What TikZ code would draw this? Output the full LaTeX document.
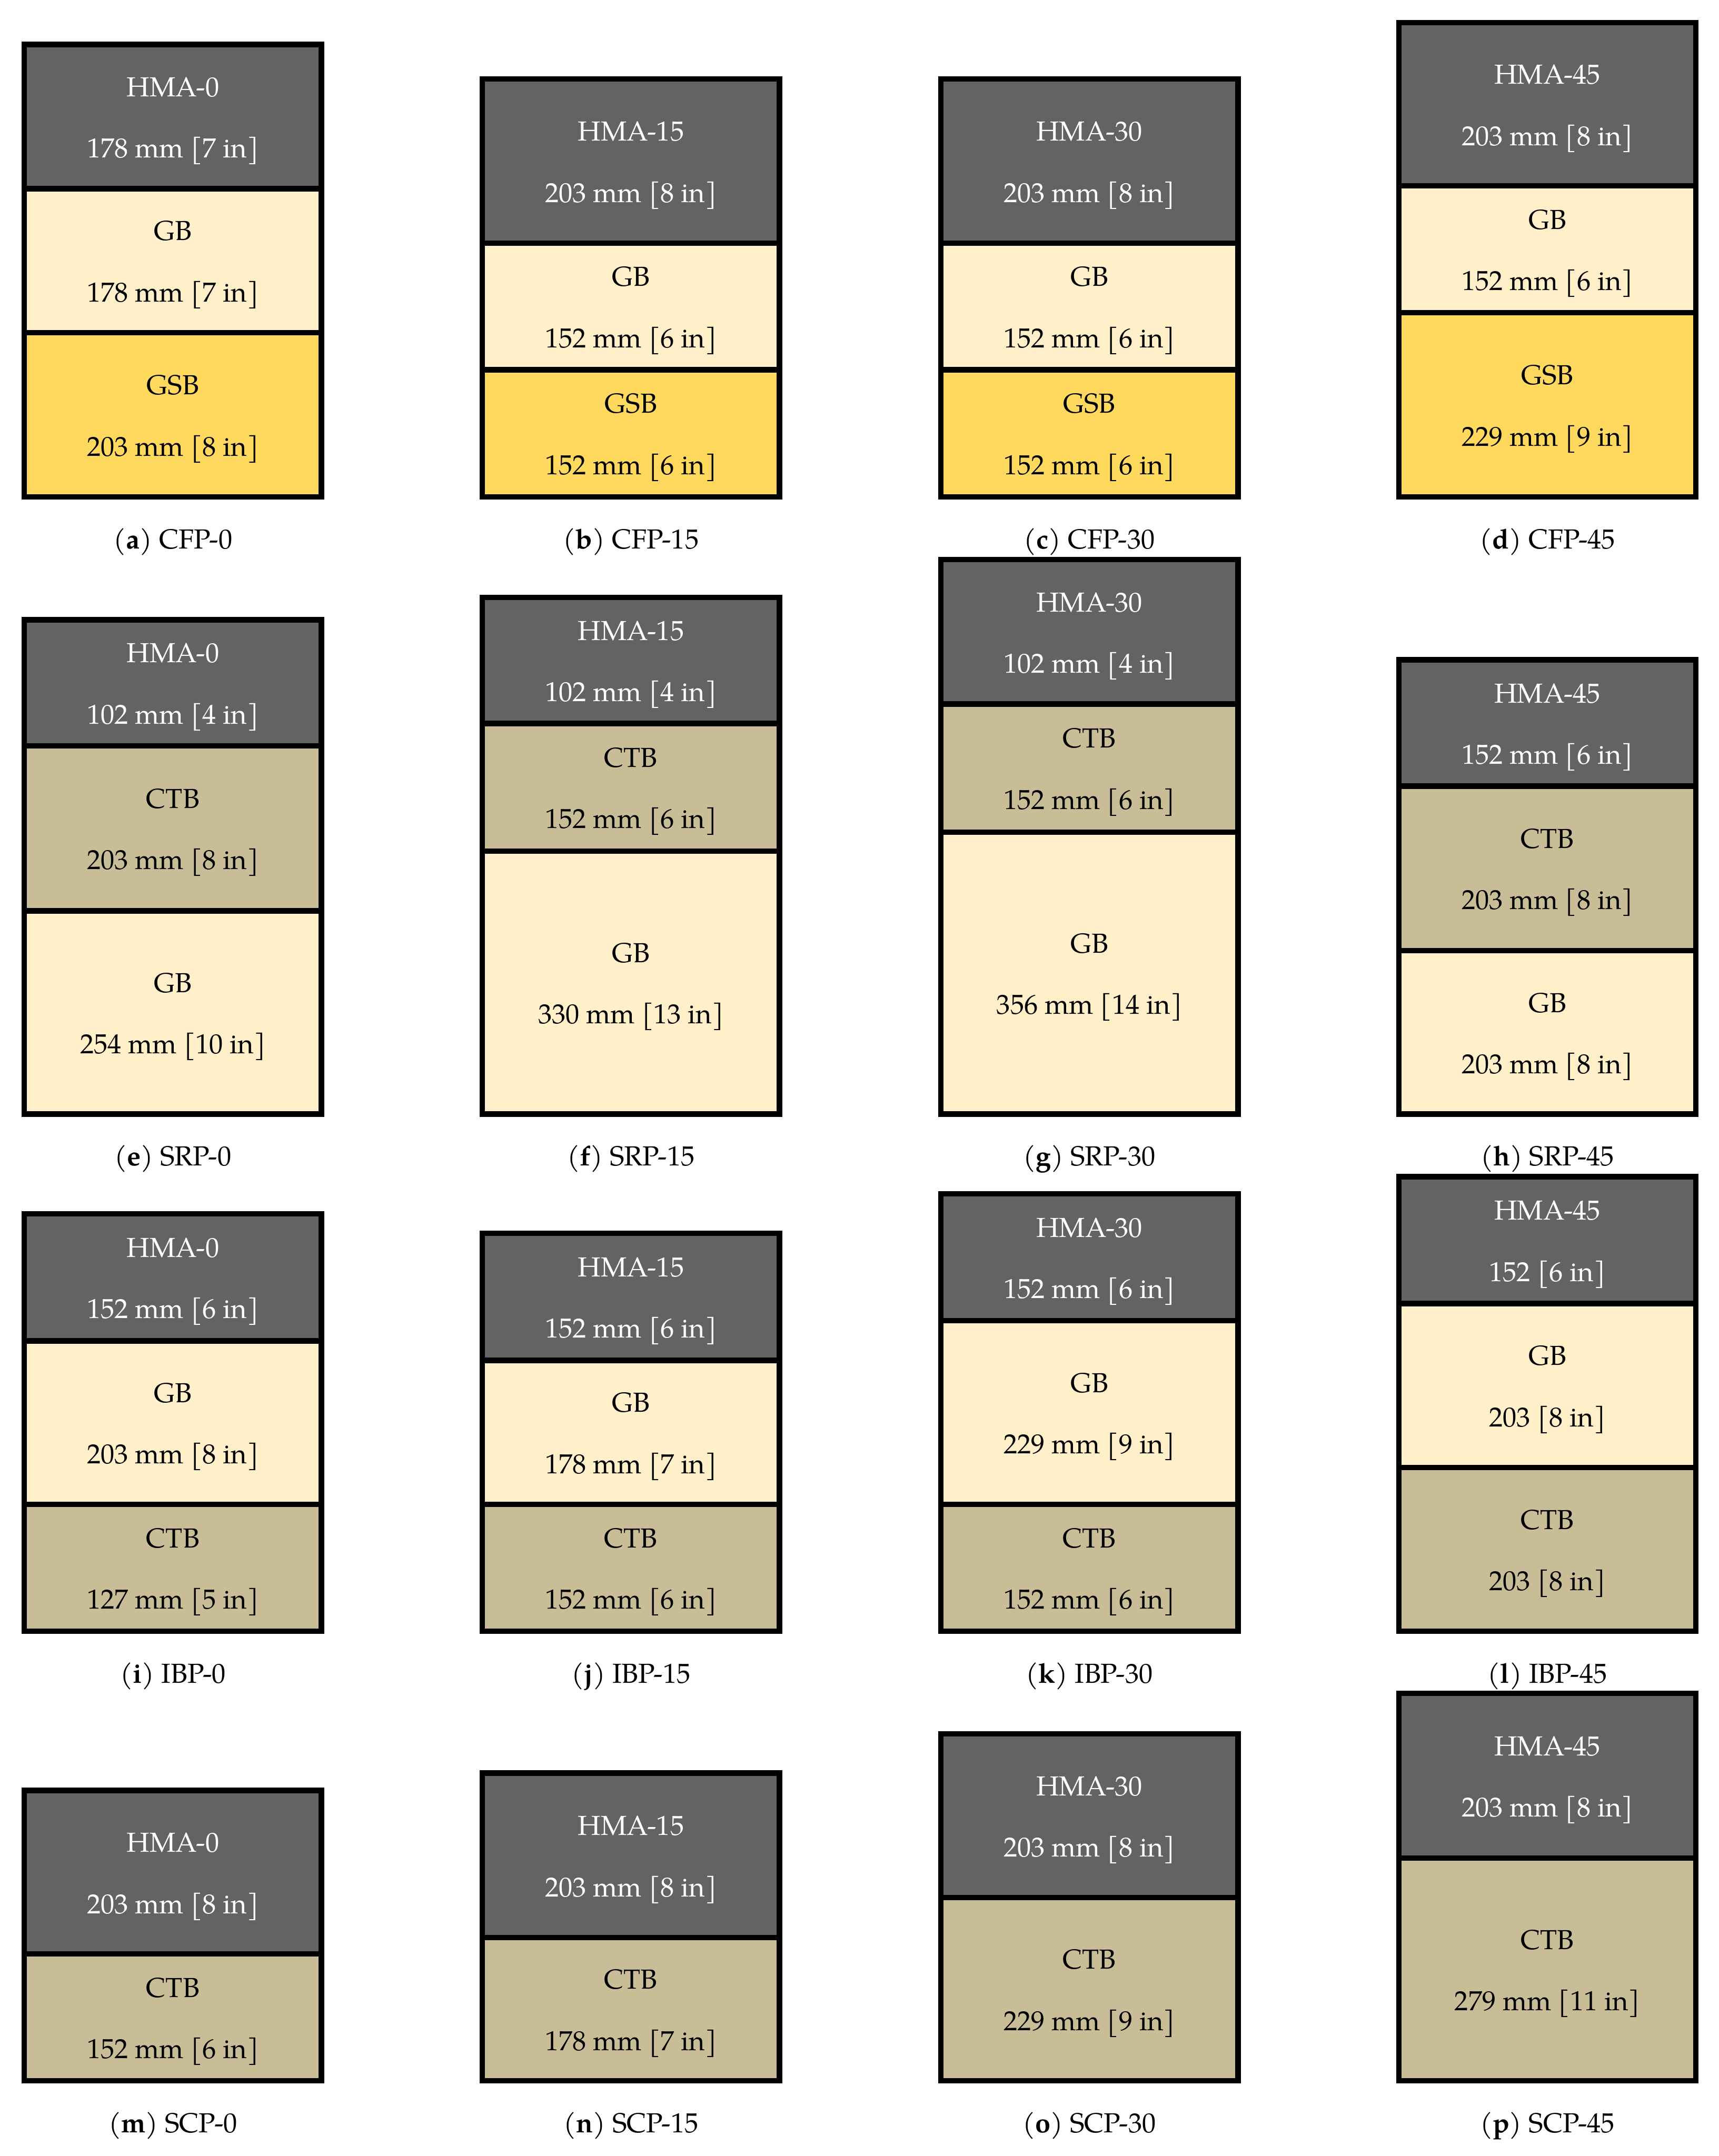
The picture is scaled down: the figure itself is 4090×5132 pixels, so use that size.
\documentclass[tikz,border=0pt]{standalone}
\usepackage{fontspec}
\setmainfont{texgyrepagella}[Extension=.otf,UprightFont=*-regular,BoldFont=*-bold,ItalicFont=*-italic,BoldItalicFont=*-bolditalic]
\definecolor{hma}{RGB}{99,99,99}
\definecolor{gbc}{RGB}{255,240,202}
\definecolor{gsbc}{RGB}{255,217,94}
\definecolor{ctbc}{RGB}{200,189,150}
\tikzset{
  layerline/.style={draw=black, line width=2.6pt},
  lbl/.style={anchor=base, inner sep=0pt, font=\fontsize{13.1pt}{15pt}\selectfont},
  captext/.style={anchor=base, inner sep=0pt, text=black, font=\fontsize{13.1pt}{15pt}\selectfont}
}
% #1 name, #2 x-left, #3 top, #4 bottom, #5 fill, #6 text colour, #7 line 1, #8 line 2
\newcommand\pvlayer[8]{%
  \draw[layerline, fill=#5] (#2,#3) rectangle ({#2+707},#4);
  \node[lbl, text=#6] (#1-1) at ({#2+353.5},{(#3+#4)/2-48}) {#7};
  \node[lbl, text=#6] (#1-2) at ({#2+353.5},{(#3+#4)/2+98}) {#8};
}
% #1 name, #2 x-left, #3 bottom, #4 text
\newcommand\pvcap[4]{%
  \node[captext] (#1) at ({#2+353.5},{#3+123}) {#4};
}
\begin{document}
\begin{tikzpicture}[x=0.2pt, y=-0.2pt]
\useasboundingbox (0,0) rectangle (4090,5132);
% ---------- Row 1 ----------
\pvlayer{a1}{58}{106}{449}{hma}{white}{HMA-0}{178 mm [7 in]}
\pvlayer{a2}{58}{449}{792}{gbc}{black}{GB}{178 mm [7 in]}
\pvlayer{a3}{58}{792}{1183}{gsbc}{black}{GSB}{203 mm [8 in]}
\pvcap{capa}{58}{1183}{(\textbf{a}) CFP-0}

\pvlayer{b1}{1148}{188}{579}{hma}{white}{HMA-15}{203 mm [8 in]}
\pvlayer{b2}{1148}{579}{880}{gbc}{black}{GB}{152 mm [6 in]}
\pvlayer{b3}{1148}{880}{1183}{gsbc}{black}{GSB}{152 mm [6 in]}
\pvcap{capb}{1148}{1183}{(\textbf{b}) CFP-15}

\pvlayer{c1}{2239}{188}{579}{hma}{white}{HMA-30}{203 mm [8 in]}
\pvlayer{c2}{2239}{579}{880}{gbc}{black}{GB}{152 mm [6 in]}
\pvlayer{c3}{2239}{880}{1183}{gsbc}{black}{GSB}{152 mm [6 in]}
\pvcap{capc}{2239}{1183}{(\textbf{c}) CFP-30}

\pvlayer{d1}{3329}{54}{442.6}{hma}{white}{HMA-45}{203 mm [8 in]}
\pvlayer{d2}{3329}{442.6}{744.5}{gbc}{black}{GB}{152 mm [6 in]}
\pvlayer{d3}{3329}{744.5}{1183}{gsbc}{black}{GSB}{229 mm [9 in]}
\pvcap{capd}{3329}{1183}{(\textbf{d}) CFP-45}
% ---------- Row 2 ----------
\pvlayer{e1}{58}{1475.5}{1775}{hma}{white}{HMA-0}{102 mm [4 in]}
\pvlayer{e2}{58}{1775}{2168}{ctbc}{black}{CTB}{203 mm [8 in]}
\pvlayer{e3}{58}{2168}{2652}{gbc}{black}{GB}{254 mm [10 in]}
\pvcap{cape}{58}{2652}{(\textbf{e}) SRP-0}

\pvlayer{f1}{1148}{1422}{1722}{hma}{white}{HMA-15}{102 mm [4 in]}
\pvlayer{f2}{1148}{1722}{2025.6}{ctbc}{black}{CTB}{152 mm [6 in]}
\pvlayer{f3}{1148}{2025.6}{2652}{gbc}{black}{GB}{330 mm [13 in]}
\pvcap{capf}{1148}{2652}{(\textbf{f}) SRP-15}

\pvlayer{g1}{2239}{1332}{1676}{hma}{white}{HMA-30}{102 mm [4 in]}
\pvlayer{g2}{2239}{1676}{1980.6}{ctbc}{black}{CTB}{152 mm [6 in]}
\pvlayer{g3}{2239}{1980.6}{2652}{gbc}{black}{GB}{356 mm [14 in]}
\pvcap{capg}{2239}{2652}{(\textbf{g}) SRP-30}

\pvlayer{h1}{3329}{1570.6}{1871}{hma}{white}{HMA-45}{152 mm [6 in]}
\pvlayer{h2}{3329}{1871}{2263}{ctbc}{black}{CTB}{203 mm [8 in]}
\pvlayer{h3}{3329}{2263}{2652}{gbc}{black}{GB}{203 mm [8 in]}
\pvcap{caph}{3329}{2652}{(\textbf{h}) SRP-45}
% ---------- Row 3 ----------
\pvlayer{i1}{58}{2889}{3191.6}{hma}{white}{HMA-0}{152 mm [6 in]}
\pvlayer{i2}{58}{3191.6}{3580.5}{gbc}{black}{GB}{203 mm [8 in]}
\pvlayer{i3}{58}{3580.5}{3883}{ctbc}{black}{CTB}{127 mm [5 in]}
\pvcap{capi}{58}{3883}{(\textbf{i}) IBP-0}

\pvlayer{j1}{1148}{2935.6}{3238}{hma}{white}{HMA-15}{152 mm [6 in]}
\pvlayer{j2}{1148}{3238}{3580.6}{gbc}{black}{GB}{178 mm [7 in]}
\pvlayer{j3}{1148}{3580.6}{3883}{ctbc}{black}{CTB}{152 mm [6 in]}
\pvcap{capj}{1148}{3883}{(\textbf{j}) IBP-15}

\pvlayer{k1}{2239}{2841.7}{3143.6}{hma}{white}{HMA-30}{152 mm [6 in]}
\pvlayer{k2}{2239}{3143.6}{3580.6}{gbc}{black}{GB}{229 mm [9 in]}
\pvlayer{k3}{2239}{3580.6}{3883}{ctbc}{black}{CTB}{152 mm [6 in]}
\pvcap{capk}{2239}{3883}{(\textbf{k}) IBP-30}

\pvlayer{l1}{3329}{2801}{3103}{hma}{white}{HMA-45}{152 [6 in]}
\pvlayer{l2}{3329}{3103}{3493}{gbc}{black}{GB}{203 [8 in]}
\pvlayer{l3}{3329}{3493}{3883}{ctbc}{black}{CTB}{203 [8 in]}
\pvcap{capl}{3329}{3883}{(\textbf{l}) IBP-45}
% ---------- Row 4 ----------
\pvlayer{m1}{58}{4262}{4651}{hma}{white}{HMA-0}{203 mm [8 in]}
\pvlayer{m2}{58}{4651}{4953}{ctbc}{black}{CTB}{152 mm [6 in]}
\pvcap{capm}{58}{4953}{(\textbf{m}) SCP-0}

\pvlayer{n1}{1148}{4220.6}{4612}{hma}{white}{HMA-15}{203 mm [8 in]}
\pvlayer{n2}{1148}{4612}{4953}{ctbc}{black}{CTB}{178 mm [7 in]}
\pvcap{capn}{1148}{4953}{(\textbf{n}) SCP-15}

\pvlayer{o1}{2239}{4127}{4517}{hma}{white}{HMA-30}{203 mm [8 in]}
\pvlayer{o2}{2239}{4517}{4953}{ctbc}{black}{CTB}{229 mm [9 in]}
\pvcap{capo}{2239}{4953}{(\textbf{o}) SCP-30}

\pvlayer{p1}{3329}{4031}{4422.6}{hma}{white}{HMA-45}{203 mm [8 in]}
\pvlayer{p2}{3329}{4422.6}{4953}{ctbc}{black}{CTB}{279 mm [11 in]}
\pvcap{capp}{3329}{4953}{(\textbf{p}) SCP-45}
\end{tikzpicture}
\end{document}
